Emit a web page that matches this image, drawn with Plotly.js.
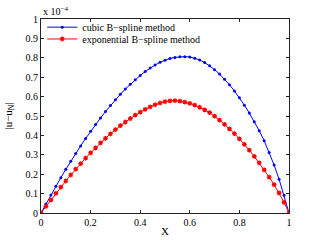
<!DOCTYPE html>
<html>
<head>
<meta charset="utf-8">
<script src="https://cdn.plot.ly/plotly-3.0.1.min.js"></script>
<style>html,body{margin:0;padding:0;background:#fff;}#chart{width:319px;height:240px;}</style>
</head>
<body>
<div id="chart"></div>
<script>
// x nodes
const xNodes = [0,0.02,0.04,0.06,0.08,0.10,0.12,0.14,0.16,0.18,0.20,0.22,0.24,0.26,0.28,0.30,0.32,0.34,0.36,0.38,0.40,0.42,0.44,0.46,0.48,0.50,0.52,0.54,0.56,0.58,0.60,0.62,0.64,0.66,0.68,0.70,0.72,0.74,0.76,0.78,0.80,0.82,0.84,0.86,0.88,0.90,0.92,0.94,0.96,0.98,1.00];
// |u - u_N| in units of 1e-4
const cubicErr = [0,0.047,0.093,0.138,0.182,0.225,0.267,0.307,0.346,0.384,0.421,0.456,0.490,0.523,0.554,0.584,0.612,0.639,0.664,0.687,0.709,0.729,0.747,0.763,0.777,0.788,0.797,0.802,0.805,0.806,0.804,0.798,0.789,0.776,0.759,0.739,0.716,0.690,0.661,0.629,0.594,0.556,0.515,0.471,0.424,0.372,0.312,0.247,0.174,0.092,0];
const expErr = [0,0.034,0.068,0.101,0.133,0.165,0.196,0.226,0.255,0.283,0.310,0.336,0.361,0.385,0.408,0.430,0.450,0.469,0.487,0.504,0.520,0.534,0.547,0.558,0.567,0.574,0.578,0.579,0.577,0.572,0.565,0.556,0.545,0.532,0.517,0.499,0.479,0.457,0.434,0.409,0.382,0.354,0.324,0.292,0.258,0.222,0.185,0.146,0.104,0.055,0];
const xTicks = [0,0.2,0.4,0.6,0.8,1];
const yTicks = [0,0.1,0.2,0.3,0.4,0.5,0.6,0.7,0.8,0.9,1];
const seriesNames = ['cubic B\u2212spline method','exponential B\u2212spline method'];

const font = {family:'"Liberation Serif", "DejaVu Serif", serif', size:10, color:'#000'};
const titleFont = {family:'"Liberation Serif", "DejaVu Serif", serif', size:11, color:'#000'};

const traces = [
  {x:xNodes, y:cubicErr, name:seriesNames[0], type:'scatter', mode:'lines+markers', legend:'legend',
   line:{color:'#0000ff', width:1}, marker:{color:'#0000ff', size:3, symbol:'circle'}},
  {x:xNodes, y:expErr, name:seriesNames[1], type:'scatter', mode:'lines+markers', legend:'legend2',
   line:{color:'#ff0000', width:1}, marker:{color:'#ff0000', size:4, symbol:'asterisk-open', line:{color:'#ff0000', width:1.2}}}
];

const axisCommon = {showgrid:false, zeroline:false, showline:true, linecolor:'#222', linewidth:1,
  mirror:'ticks', ticks:'inside', ticklen:3, tickcolor:'#222', tickfont:font};

const legendCommon = {x:0.005, xanchor:'left', yanchor:'middle', bgcolor:'rgba(0,0,0,0)', borderwidth:0,
  font:font, itemwidth:30};

const layout = {
  width:319, height:240,
  margin:{l:41, r:30, t:19, b:27, pad:0},
  paper_bgcolor:'#fff', plot_bgcolor:'#fff',
  font:font,
  showlegend:true,
  legend:Object.assign({}, legendCommon, {y:0.958}),
  legend2:Object.assign({}, legendCommon, {y:0.897}),
  xaxis:Object.assign({}, axisCommon, {range:[0,1], tickvals:xTicks, ticktext:xTicks.map(String)}),
  yaxis:Object.assign({}, axisCommon, {range:[0,1], tickvals:yTicks, ticktext:yTicks.map(String),
    title:{text:'|u\u2212u<sub>N</sub>|', font:titleFont, standoff:10}}),
  annotations:[
    {xref:'paper', yref:'paper', x:0, y:1, xanchor:'left', yanchor:'bottom',
     text:'x 10<sup>\u22124</sup>', showarrow:false, font:font},
    {xref:'paper', yref:'paper', x:0.5, y:0, xanchor:'center', yanchor:'top', yshift:-10,
     text:'X', showarrow:false, font:titleFont}
  ]
};

Plotly.newPlot('chart', traces, layout, {displayModeBar:false, staticPlot:true});
</script>
</body>
</html>
